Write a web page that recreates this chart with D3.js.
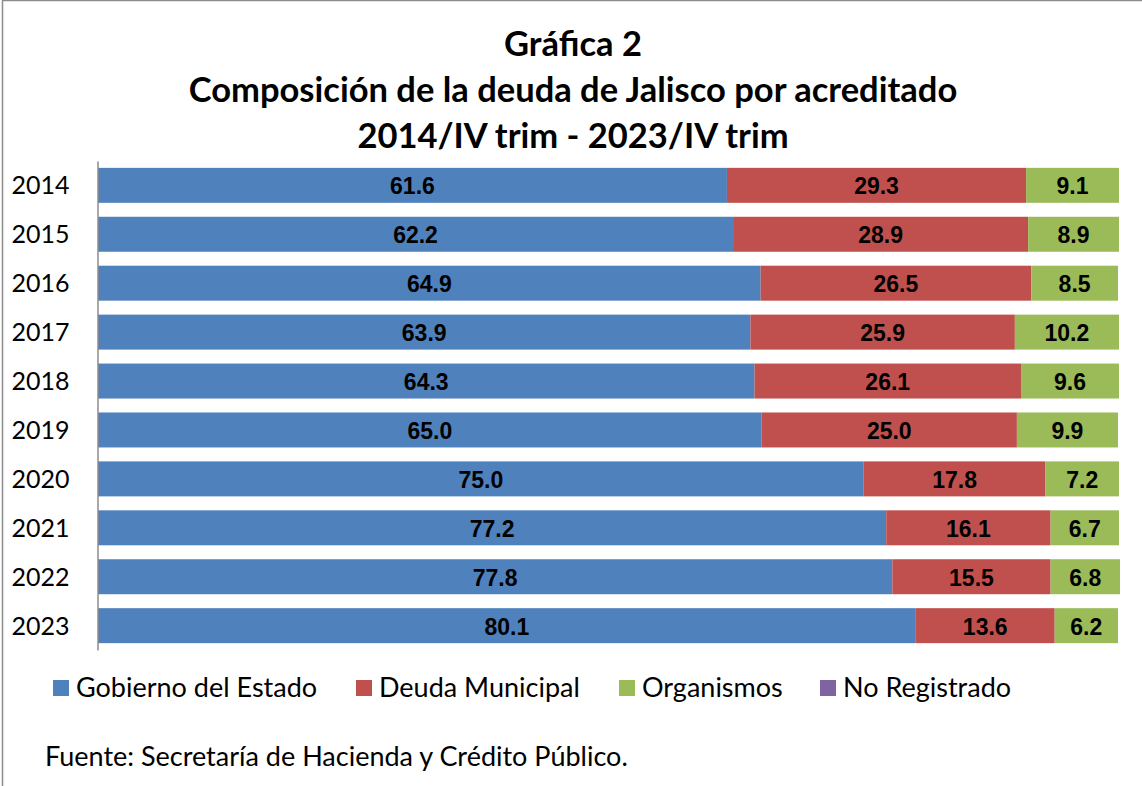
<!DOCTYPE html>
<html>
<head>
<meta charset="utf-8">
<script src="https://cdn.jsdelivr.net/npm/d3@7"></script>
<style>
  body { margin: 0; background: #fff; }
  svg { display: block; }
</style>
</head>
<body>
<div id="svg-holder"></div>
<script>
// datos
const years = ["2014","2015","2016","2017","2018","2019","2020","2021","2022","2023"];
const gobierno  = [61.6, 62.2, 64.9, 63.9, 64.3, 65.0, 75.0, 77.2, 77.8, 80.1];
const municipal = [29.3, 28.9, 26.5, 25.9, 26.1, 25.0, 17.8, 16.1, 15.5, 13.6];
const organismos = [9.1, 8.9, 8.5, 10.2, 9.6, 9.9, 7.2, 6.7, 6.8, 6.2];
const noRegistrado = [0, 0, 0, 0, 0, 0, 0, 0, 0, 0];
const seriesNames = ["Gobierno del Estado", "Deuda Municipal", "Organismos", "No Registrado"];
const seriesColors = ["#4F81BD", "#C0504D", "#9BBB59", "#8064A2"];
const titleLines = ["Gráfica 2", "Composición de la deuda de Jalisco por acreditado", "2014/IV trim - 2023/IV trim"];
const fuente = "Fuente: Secretaría de Hacienda y Crédito Público.";

const W = 1142, H = 786;
const font = "Lato, 'Open Sans', sans-serif";

let svg = d3.select("#svg-holder").append("svg")
    .attr("width", W).attr("height", H);

// marco
svg.append("rect")
    .attr("x", 2.5).attr("y", 0.5)
    .attr("width", W + 10).attr("height", H + 10)
    .attr("fill", "#fff").attr("stroke", "#8c8c8c").attr("stroke-width", 1.5);

// titulo
svg.append("g").selectAll("text")
    .data(titleLines)
    .join("text")
    .attr("x", 573)
    .attr("y", (d, i) => 56 + i * 46)
    .attr("text-anchor", "middle")
    .style("font-family", font)
    .style("font-weight", "bold")
    .style("font-size", "34.5px")
    .text(d => d);

let rows = years.map((y, i) => ({year: y, vals: [gobierno[i], municipal[i], organismos[i], noRegistrado[i]]}));

let x = d3.scaleLinear().domain([0, 100]).range([98, 1119]);
let y = d3.scaleBand().domain(years).range([161, 650]).paddingInner(0.285).paddingOuter(0.14);

let stack = d3.stack().keys([0, 1, 2, 3]).value((d, k) => d.vals[k]);
let stacked = stack(rows);

let layers = svg.append("g").selectAll("g")
    .data(stacked)
    .join("g")
    .attr("fill", (d, i) => seriesColors[i]);

layers.selectAll("rect")
    .data(d => d)
    .join("rect")
    .attr("x", d => x(d[0]))
    .attr("y", d => y(d.data.year))
    .attr("width", d => x(d[1]) - x(d[0]))
    .attr("height", y.bandwidth());

// etiquetas de valores
layers.selectAll("text")
    .data(d => d.filter(s => s[1] - s[0] > 0))
    .join("text")
    .attr("x", d => (x(d[0]) + x(d[1])) / 2)
    .attr("y", d => y(d.data.year) + y.bandwidth() / 2 + 9)
    .attr("text-anchor", "middle")
    .attr("fill", "#000")
    .style("font-family", "'Liberation Sans', Arial, sans-serif")
    .style("font-weight", "bold")
    .style("font-size", "23px")
    .text(d => (d[1] - d[0]).toFixed(1));

// eje vertical
let yAxis = svg.append("g")
    .attr("transform", "translate(97.5,0)")
    .call(d3.axisLeft(y).tickSize(0).tickPadding(28));
yAxis.select(".domain").attr("stroke", "#8c8c8c").attr("stroke-width", 1.5);
yAxis.selectAll("text")
    .attr("dy", "0.36em")
    .style("font-family", font)
    .style("font-size", "25px")
    .attr("fill", "#000");

// leyenda
const legendX = [53, 356, 619, 820];
let legend = svg.append("g").selectAll("g")
    .data(seriesNames)
    .join("g")
    .attr("transform", (d, i) => "translate(" + legendX[i] + ",680)");
legend.append("rect")
    .attr("width", 16).attr("height", 16)
    .attr("fill", (d, i) => seriesColors[i]);
legend.append("text")
    .attr("x", 23).attr("y", 17)
    .style("font-family", font)
    .style("font-size", "27px")
    .text(d => d);

// fuente
svg.append("text")
    .attr("x", 45).attr("y", 766)
    .style("font-family", font)
    .style("font-size", "27px")
    .text(fuente);
</script>
</body>
</html>
